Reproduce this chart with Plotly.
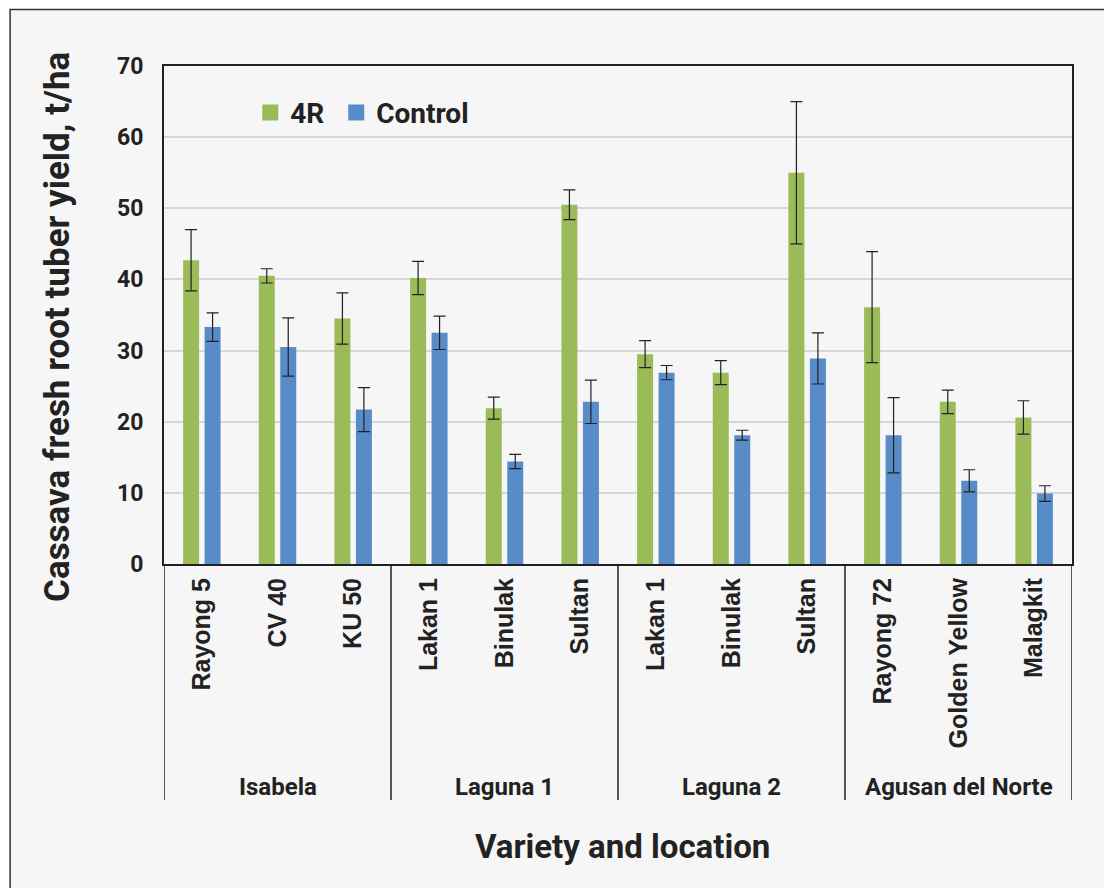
import plotly.graph_objects as go

locations = ["Isabela", "Laguna 1", "Laguna 2", "Agusan del Norte"]
varieties = ["Rayong 5", "CV 40", "KU 50",
             "Lakan 1", "Binulak", "Sultan",
             "Lakan 1", "Binulak", "Sultan",
             "Rayong 72", "Golden Yellow", "Malagkit"]
group_sizes = [3, 3, 3, 3]

yield_4r = [42.7, 40.5, 34.5, 40.2, 21.9, 50.5, 29.5, 26.9, 55.0, 36.1, 22.8, 20.6]
err_4r = [4.3, 1.0, 3.6, 2.35, 1.55, 2.1, 1.9, 1.7, 10.0, 7.8, 1.65, 2.35]
yield_ctrl = [33.3, 30.5, 21.7, 32.5, 14.4, 22.8, 26.9, 18.1, 28.9, 18.1, 11.7, 9.9]
err_ctrl = [2.0, 4.1, 3.1, 2.35, 1.0, 3.05, 1.0, 0.7, 3.6, 5.3, 1.55, 1.1]

GREEN = "#9bbb59"
BLUE = "#588cc8"
DARK = "#222222"
COND = "Roboto, 'Liberation Sans Narrow', Arial, sans-serif"

xpos = list(range(len(varieties)))

fig = go.Figure()
fig.add_trace(go.Bar(
    x=xpos, y=yield_4r, name="4R", marker=dict(color=GREEN, line=dict(width=0)),
    error_y=dict(type="data", array=err_4r, color="#222222", thickness=1.2, width=6),
    showlegend=False))
fig.add_trace(go.Bar(
    x=xpos, y=yield_ctrl, name="Control", marker=dict(color=BLUE, line=dict(width=0)),
    error_y=dict(type="data", array=err_ctrl, color="#222222", thickness=1.2, width=6),
    showlegend=False))
# legend entries
fig.add_trace(go.Scatter(x=[None], y=[None], mode="markers", name="<b>4R</b>\u00a0",
                         marker=dict(symbol="square", size=16, color=GREEN)))
fig.add_trace(go.Scatter(x=[None], y=[None], mode="markers", name="<b>Control</b>",
                         marker=dict(symbol="square", size=16, color=BLUE)))

# group separators and location labels
shapes = []
annotations = []
start = 0
bounds = [-0.5]
for loc, n in zip(locations, group_sizes):
    center = start + (n - 1) / 2
    annotations.append(dict(x=center, xref="x", y=-0.4478, yref="paper",
                            text=f"<b>{loc}</b>", showarrow=False,
                            font=dict(family=COND, size=24, color=DARK),
                            xanchor="center", yanchor="middle"))
    start += n
    bounds.append(start - 0.5)
for b in bounds:
    shapes.append(dict(type="line", xref="x", yref="paper", x0=b, x1=b,
                       y0=0, y1=-0.474, line=dict(color=DARK, width=1.5)))

# outer frame
shapes.append(dict(type="rect", xref="paper", yref="paper",
                   x0=-0.1695, x1=1.0405, y0=-0.70, y1=1.1135,
                   line=dict(color="#333333", width=1.5),
                   fillcolor="#f6f6f6", layer="below"))

annotations.append(dict(x=-0.1167, xref="paper", y=0.476, yref="paper",
                        text="<b>Cassava fresh root tuber yield, t/ha</b>",
                        textangle=-90, showarrow=False,
                        font=dict(family=COND, size=35, color=DARK),
                        xanchor="center", yanchor="middle"))
annotations.append(dict(x=0.505, xref="paper", y=-0.568, yref="paper",
                        text="<b>Variety and location</b>", showarrow=False,
                        font=dict(family=COND, size=33, color=DARK),
                        xanchor="center", yanchor="middle"))

fig.update_layout(
    width=1104, height=880,
    margin=dict(l=156, r=40, t=58, b=324, autoexpand=False),
    paper_bgcolor="white", plot_bgcolor="white",
    barmode="group", bargap=0.432, bargroupgap=0.256,
    shapes=shapes, annotations=annotations,
    legend=dict(orientation="h", x=0.095, xanchor="left", y=0.906, yanchor="middle",
                bgcolor="rgba(0,0,0,0)", font=dict(family=COND, size=28, color=DARK),
                itemwidth=30, tracegroupgap=0),
    font=dict(family=COND, color=DARK),
)
fig.update_xaxes(
    range=[-0.5, len(varieties) - 0.5], tickmode="array", tickvals=xpos,
    ticktext=[f"<b>{v}</b>" for v in varieties], tickangle=-90,
    tickfont=dict(family="'Liberation Sans', Arial, sans-serif", size=25, color=DARK),
    ticks="outside", ticklen=0, ticklabelstandoff=2,
    showline=True, linecolor=DARK, linewidth=2, mirror=True,
    showgrid=False, zeroline=False, fixedrange=True)
fig.update_yaxes(
    range=[0, 70], tickmode="array", tickvals=[0, 10, 20, 30, 40, 50, 60, 70],
    ticktext=[f"<b>{t}</b>" for t in [0, 10, 20, 30, 40, 50, 60, 70]],
    tickfont=dict(family=COND, size=23, color=DARK),
    ticks="outside", ticklen=0, ticklabelstandoff=14,
    showline=True, linecolor=DARK, linewidth=2, mirror=True,
    showgrid=True, gridcolor="#d6d6d6", gridwidth=1.5, zeroline=False)

fig.write_html("out.html")
